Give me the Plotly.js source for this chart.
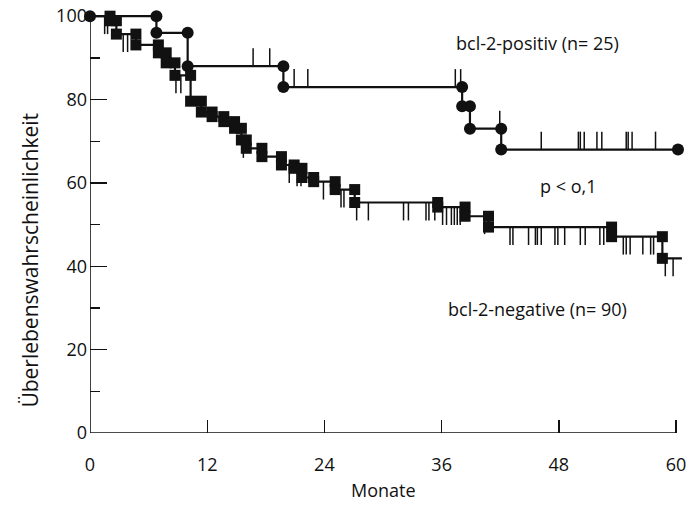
<!DOCTYPE html>
<html>
<head>
<meta charset="utf-8">
<script src="https://cdn.plot.ly/plotly-3.0.1.min.js"></script>
<style>
  html, body { margin: 0; padding: 0; background: #fff; }
  #chart { width: 687px; height: 505px; }
</style>
</head>
<body>
<div id="chart"></div>
<script>
// Kaplan-Meier survival, bcl-2-positive vs bcl-2-negative (months, % surviving)
const posEventMonths = [6.8, 10.0, 19.8, 38.1, 38.9, 42.1];
const posSurvival    = [96, 88, 83, 78.4, 73, 68];
const posLastMonth   = 60.2;
const posCensored    = [16.7, 18.4, 20.9, 22.3, 37.4, 37.95, 41.95, 46.2, 50.0, 50.2,
                        50.6, 51.9, 52.4, 54.9, 55.1, 55.5, 57.9];

const negEventMonths = [2.05, 2.7, 4.7, 7.0, 7.8, 8.7, 10.3, 11.4, 12.5, 13.7, 14.8,
                        15.5, 16.0, 17.6, 19.6, 20.9, 21.7, 22.9, 25.1, 27.1, 35.6,
                        38.4, 40.8, 53.4, 58.6];
const negSurvival    = [98.9, 95.7, 93.1, 91.2, 88.8, 85.8, 79.6, 77.0, 75.9, 74.7, 73.1,
                        70.3, 68.3, 66.3, 64.3, 63.5, 61.3, 60.3, 58.4, 55.3, 54.2,
                        52.0, 49.4, 47.1, 41.9];
const negLastMonth   = 60.6;
const negCensored    = [1.5, 1.8, 3.4, 3.85, 8.8, 9.3, 15.7, 20.4, 21.2, 21.6, 23.9, 25.7,
                        26.0, 27.3, 28.5, 32.1, 32.6, 34.4, 34.7, 35.3, 36.1, 36.5, 37.0,
                        37.3, 37.6, 37.9, 40.4, 43.0, 43.3, 44.9, 45.6, 45.8, 46.2, 47.6,
                        47.9, 48.6, 50.2, 50.7, 52.2, 52.6, 54.6, 54.9, 55.3, 56.6, 57.4,
                        57.7, 58.9, 59.7];

const xTicks = [0, 12, 24, 36, 48, 60];
const yTicks = [0, 20, 40, 60, 80, 100];
const yMinorTicks = [10, 30, 50, 70, 90];

const FONT = '"Open Sans", "Noto Sans", sans-serif';
const INK = '#111';
const CENSOR_LEN = 4.3;   // length of censoring marks, in % units

// survival level in effect at a given month
function levelAt(times, surv, t) {
  let s = 100;
  for (let i = 0; i < times.length; i++) if (times[i] <= t) s = surv[i];
  return s;
}

function stepCurve(times, surv, last) {
  return { x: [0, ...times, last], y: [100, ...surv, surv[surv.length - 1]] };
}

// a marker above and below every drop
function cornerMarkers(times, surv) {
  const x = [], y = [];
  times.forEach((t, i) => {
    x.push(t, t);
    y.push(i === 0 ? 100 : surv[i - 1], surv[i]);
  });
  return { x, y };
}

function censorMarks(times, surv, censored, dir) {
  const x = [], y = [];
  censored.forEach(t => {
    const s = levelAt(times, surv, t);
    x.push(t, t, null);
    y.push(s, s + dir * CENSOR_LEN, null);
  });
  return { x, y };
}

const posLine = stepCurve(posEventMonths, posSurvival, posLastMonth);
const negLine = stepCurve(negEventMonths, negSurvival, negLastMonth);
const posPts = cornerMarkers(posEventMonths, posSurvival);
posPts.x.unshift(0); posPts.y.unshift(100);
posPts.x.push(posLastMonth); posPts.y.push(posSurvival[posSurvival.length - 1]);
const negPts = cornerMarkers(negEventMonths, negSurvival);
const posCens = censorMarks(posEventMonths, posSurvival, posCensored, +1);
const negCens = censorMarks(negEventMonths, negSurvival, negCensored, -1);

const traces = [
  { x: negLine.x, y: negLine.y, mode: 'lines', line: { shape: 'hv', color: INK, width: 2.2 }, hoverinfo: 'skip' },
  { x: negCens.x, y: negCens.y, mode: 'lines', line: { color: INK, width: 1.5 }, hoverinfo: 'skip' },
  { x: negPts.x, y: negPts.y, mode: 'markers', cliponaxis: false,
    marker: { symbol: 'square', size: 11, color: INK }, hoverinfo: 'skip' },
  { x: posLine.x, y: posLine.y, mode: 'lines', line: { shape: 'hv', color: INK, width: 2.2 }, hoverinfo: 'skip' },
  { x: posCens.x, y: posCens.y, mode: 'lines', line: { color: INK, width: 1.5 }, hoverinfo: 'skip' },
  { x: posPts.x, y: posPts.y, mode: 'markers', cliponaxis: false,
    marker: { symbol: 'circle', size: 12, color: INK }, hoverinfo: 'skip' }
];

const layout = {
  width: 687, height: 505,
  margin: { l: 90, r: 5, t: 12, b: 72 },
  paper_bgcolor: '#fff', plot_bgcolor: '#fff',
  showlegend: false,
  font: { family: FONT, size: 18, color: INK },
  xaxis: {
    range: [0, 60.61], showgrid: false, zeroline: false, showline: false,
    tickmode: 'array', tickvals: xTicks, ticktext: xTicks.map(String),
    ticks: 'inside', ticklen: 13, tickwidth: 1.4, tickcolor: INK,
    ticklabelstandoff: 19,
    tickfont: { family: FONT, size: 18, color: INK }
  },
  yaxis: {
    range: [0, 101], showgrid: false, zeroline: false, showline: false,
    tickmode: 'array', tickvals: yTicks, ticktext: yTicks.map(String),
    ticks: 'inside', ticklen: 17, tickwidth: 1.4, tickcolor: INK,
    ticklabelstandoff: 2,
    tickfont: { family: FONT, size: 18, color: INK },
    minor: { tickmode: 'array', tickvals: yMinorTicks, ticks: 'inside', ticklen: 10, tickwidth: 1.4, tickcolor: INK }
  },
  shapes: [
    { type: 'line', xref: 'x', yref: 'y', x0: 0, x1: 60, y0: 0, y1: 0, line: { color: INK, width: 1.6 } },
    { type: 'line', xref: 'x', yref: 'y', x0: 0, x1: 0, y0: 0, y1: 100, line: { color: INK, width: 1.6 } }
  ],
  annotations: [
    { text: 'bcl-2-positiv (n= 25)', xref: 'x', yref: 'y', x: 45.8, y: 93.5, showarrow: false,
      font: { family: FONT, size: 18, color: INK } },
    { text: 'p &lt; o,1', xref: 'x', yref: 'y', x: 48.9, y: 59.3, showarrow: false,
      font: { family: FONT, size: 18, color: INK } },
    { text: 'bcl-2-negative (n= 90)', xref: 'x', yref: 'y', x: 45.8, y: 29.7, showarrow: false,
      font: { family: FONT, size: 18, color: INK } },
    { text: 'Monate', xref: 'x', yref: 'paper', x: 30, y: -0.136, yanchor: 'middle', showarrow: false,
      borderpad: 0, font: { family: FONT, size: 18, color: INK } },
    { text: 'Überlebenswahrscheinlichkeit', xref: 'paper', yref: 'paper', x: -0.128, y: 0.41,
      textangle: -90, showarrow: false, font: { family: FONT, size: 21, color: INK } }
  ]
};

Plotly.newPlot('chart', traces, layout, { staticPlot: true, displayModeBar: false });
</script>
</body>
</html>
